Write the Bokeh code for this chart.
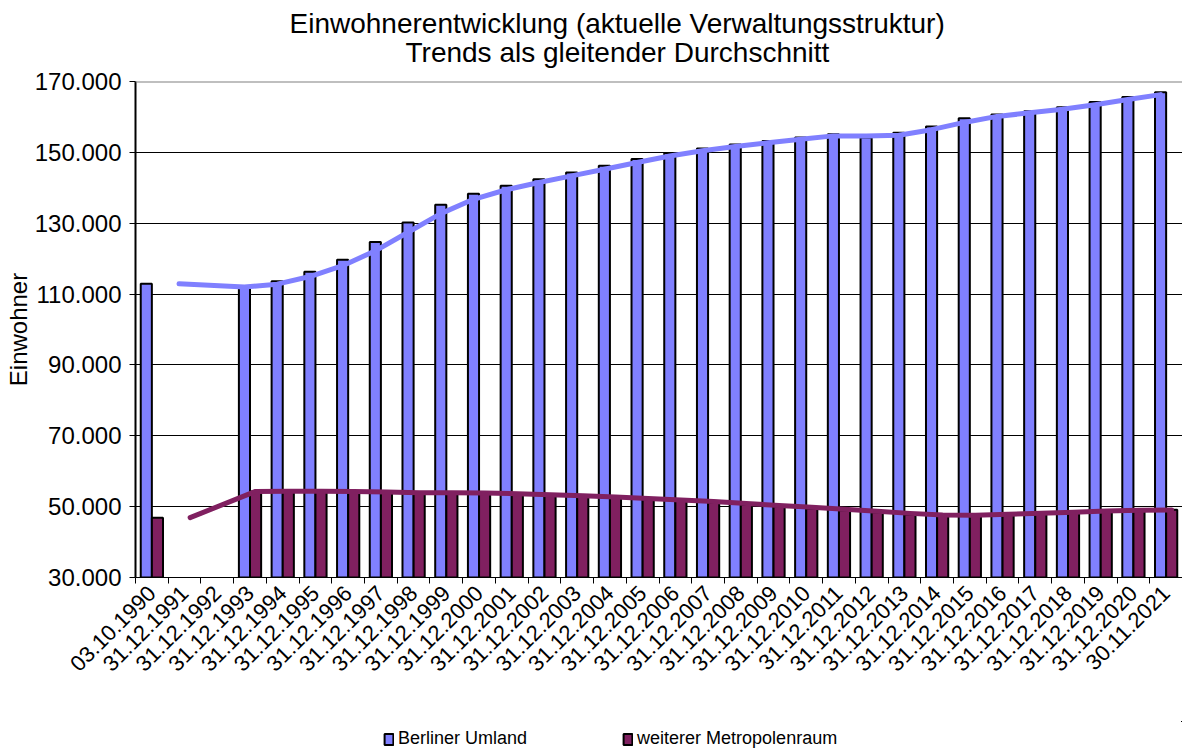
import math
from bokeh.plotting import figure
from bokeh.layouts import column
from bokeh.models import (Range1d, FixedTicker, Legend, LegendItem, Title, Span)
from bokeh.embed import file_html
from bokeh.resources import INLINE

# ---------------- data ----------------
categories = [
    "03.10.1990", "31.12.1991", "31.12.1992", "31.12.1993", "31.12.1994",
    "31.12.1995", "31.12.1996", "31.12.1997", "31.12.1998", "31.12.1999",
    "31.12.2000", "31.12.2001", "31.12.2002", "31.12.2003", "31.12.2004",
    "31.12.2005", "31.12.2006", "31.12.2007", "31.12.2008", "31.12.2009",
    "31.12.2010", "31.12.2011", "31.12.2012", "31.12.2013", "31.12.2014",
    "31.12.2015", "31.12.2016", "31.12.2017", "31.12.2018", "31.12.2019",
    "31.12.2020", "30.11.2021",
]

berliner_umland = [
    112900, None, None, 112000, 113600, 116300, 119700, 124700, 130200, 135200,
    138300, 140600, 142400, 144300, 146200, 148100, 149800, 151100, 152200, 153200,
    154200, 155100, 154200, 155500, 157300, 159600, 160700, 161600, 162700, 164200,
    165600, 167000,
]

weiterer_metropolenraum = [
    46900, None, None, 54300, 54400, 54300, 54200, 54000, 53900, 53900,
    53800, 53500, 53200, 52900, 52500, 52100, 51700, 51200, 50600, 50100,
    49500, 49000, 48400, 47800, 47500, 47700, 48000, 48300, 48600, 48900,
    49000, 49100,
]

series_names = ["Berliner Umland", "weiterer Metropolenraum"]

y_ticks = [30000, 50000, 70000, 90000, 110000, 130000, 150000, 170000]
y_tick_labels = ["30.000", "50.000", "70.000", "90.000", "110.000", "130.000", "150.000", "170.000"]

title_lines = ["Einwohnerentwicklung (aktuelle Verwaltungsstruktur)",
               "Trends als gleitender Durchschnitt"]
y_axis_title = "Einwohner"

# ---------------- style ----------------
BLUE = "#8080FF"
PURPLE = "#802060"
FONT = "Liberation Sans"
BAR_W = 0.34
OFF_BLUE = 0.33
OFF_PURPLE = 0.67
W = 1182
H_MAIN = 721
H_LEG = 30


def moving_average(vals):
    """2-period moving average as used by the chart's trend lines (blanks skipped)."""
    xs, ys = [], []
    for i in range(1, len(vals)):
        pair = [v for v in (vals[i - 1], vals[i]) if v is not None]
        if pair:
            xs.append(i)
            ys.append(sum(pair) / len(pair))
    return xs, ys


n = len(categories)

p = figure(
    width=W, height=H_MAIN,
    output_backend="svg", toolbar_location=None,
    x_range=Range1d(0, n), y_range=Range1d(30000, 170000),
    min_border_left=135, min_border_right=0, min_border_top=81,
    min_border_bottom=H_MAIN - 577,
    background_fill_color="white", border_fill_color="white",
)
p.outline_line_color = None

# bars
bx = [i + OFF_BLUE for i, v in enumerate(berliner_umland) if v is not None]
by = [v for v in berliner_umland if v is not None]
px_ = [i + OFF_PURPLE for i, v in enumerate(weiterer_metropolenraum) if v is not None]
py_ = [v for v in weiterer_metropolenraum if v is not None]

p.vbar(x=bx, top=by, bottom=30000, width=BAR_W,
       fill_color=BLUE, line_color="black", line_width=2)
p.vbar(x=px_, top=py_, bottom=30000, width=BAR_W,
       fill_color=PURPLE, line_color="black", line_width=2)

# trend lines (moving average, drawn at each series' bar positions)
mx, my = moving_average(berliner_umland)
p.line([x + OFF_BLUE for x in mx], my, line_color=BLUE, line_width=5,
       line_cap="round", line_join="round")
mx2, my2 = moving_average(weiterer_metropolenraum)
p.line([x + OFF_PURPLE for x in mx2], my2, line_color=PURPLE, line_width=5,
       line_cap="round", line_join="round")

# top border of plot area
p.add_layout(Span(location=170000, dimension="width", line_color="#808080", line_width=2))

# grid
p.xgrid.grid_line_color = None
p.ygrid.ticker = FixedTicker(ticks=y_ticks)
p.ygrid.grid_line_color = "black"
p.ygrid.grid_line_width = 1

# y axis
p.yaxis.ticker = FixedTicker(ticks=y_ticks)
p.yaxis.major_label_overrides = {t: l for t, l in zip(y_ticks, y_tick_labels)}
p.yaxis.major_label_text_font = FONT
p.yaxis.major_label_text_font_size = "24px"
p.yaxis.major_label_text_color = "black"
p.yaxis.major_label_standoff = 8
p.yaxis.major_tick_out = 6
p.yaxis.major_tick_in = 0
p.yaxis.minor_tick_line_color = None
p.yaxis.axis_line_color = "black"
p.yaxis.axis_line_width = 2
p.yaxis.major_tick_line_color = "black"
p.yaxis.axis_label = y_axis_title
p.yaxis.axis_label_text_font = FONT
p.yaxis.axis_label_text_font_size = "24px"
p.yaxis.axis_label_text_font_style = "normal"
p.yaxis.axis_label_text_color = "black"
p.yaxis.axis_label_standoff = 0

# x axis
centers = [i + 0.5 for i in range(n)]
bounds = list(range(n + 1))
p.xaxis.ticker = FixedTicker(ticks=centers, minor_ticks=bounds)
p.xaxis.major_label_overrides = {c: lab for c, lab in zip(centers, categories)}
p.xaxis.major_label_orientation = math.pi / 4
p.xaxis.major_label_text_font = FONT
p.xaxis.major_label_text_font_size = "22px"
p.xaxis.major_label_text_color = "black"
p.xaxis.major_label_standoff = 6
p.xaxis.major_tick_line_color = None
p.xaxis.minor_tick_line_color = "black"
p.xaxis.minor_tick_out = 6
p.xaxis.minor_tick_in = 0
p.xaxis.axis_line_color = "black"
p.xaxis.axis_line_width = 1

# title: two lines stacked above the plot (first added = closest to plot)
p.add_layout(Title(text=" ", align="left", vertical_align="bottom", standoff=13,
                   text_font=FONT, text_font_size="1px"), "above")
p.add_layout(Title(text=title_lines[1], align="left", offset=270, vertical_align="bottom",
                   standoff=-4, text_font=FONT, text_font_size="28px",
                   text_font_style="normal", text_color="black"), "above")
p.add_layout(Title(text=title_lines[0], align="left", offset=154, vertical_align="bottom",
                   standoff=-4, text_font=FONT, text_font_size="28px",
                   text_font_style="normal", text_color="black"), "above")

# legend strip below the chart (proxy renderers lie outside its visible ranges)
pl = figure(
    width=W, height=H_LEG, output_backend="svg", toolbar_location=None,
    x_range=Range1d(-10, -9), y_range=Range1d(0, 1),
    min_border_left=0, min_border_right=0, min_border_top=0, min_border_bottom=0,
    x_axis_type=None, y_axis_type=None,
    background_fill_color="white", border_fill_color="white",
)
pl.outline_line_color = None
pl.grid.visible = False
lg_blue = pl.vbar(x=bx, top=by, bottom=30000, width=BAR_W,
                  fill_color=BLUE, line_color="black", line_width=2)
lg_purple = pl.vbar(x=px_, top=py_, bottom=30000, width=BAR_W,
                    fill_color=PURPLE, line_color="black", line_width=2)

legend = Legend(
    items=[LegendItem(label=series_names[0], renderers=[lg_blue]),
           LegendItem(label=series_names[1], renderers=[lg_purple])],
    orientation="horizontal", location=(248, 2),
    padding=0, spacing=95, margin=0, label_standoff=4,
    glyph_width=11, glyph_height=14,
    label_text_font=FONT, label_text_font_size="18px", label_text_color="black",
    border_line_color=None, background_fill_alpha=0,
)
pl.add_layout(legend)

layout = column(p, pl, spacing=0)
open("out.html", "w").write(file_html(layout, INLINE))
